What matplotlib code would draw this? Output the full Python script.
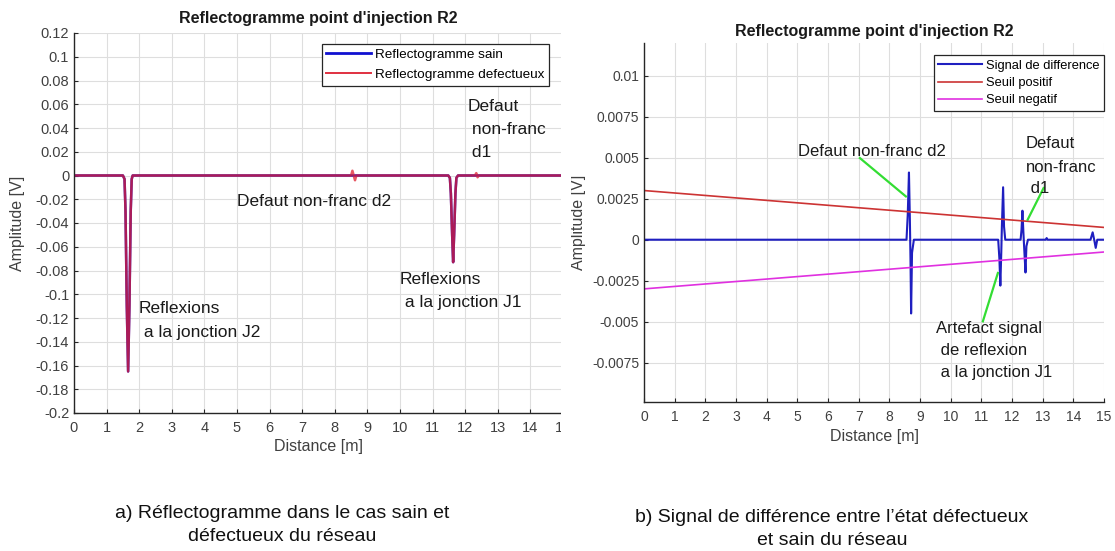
import matplotlib
matplotlib.use("Agg")
import matplotlib.pyplot as plt
from matplotlib.patches import Rectangle

# ---------------- data ----------------
# Panel a) reflectogrammes
x_sain = [0, 1.50, 1.55, 1.58, 1.62, 1.66, 1.70, 1.74, 1.77, 1.80,
          11.48, 11.53, 11.56, 11.60, 11.63, 11.66, 11.70, 11.73, 11.78, 15.0]
y_sain = [0, 0, -0.003, -0.03, -0.11, -0.165, -0.11, -0.03, -0.003, 0,
          0, -0.002, -0.015, -0.05, -0.073, -0.05, -0.015, -0.002, 0, 0]

x_def = [0, 1.50, 1.55, 1.58, 1.62, 1.66, 1.70, 1.74, 1.77, 1.80,
         8.50, 8.54, 8.58, 8.62, 8.66,
         11.48, 11.53, 11.56, 11.60, 11.63, 11.66, 11.70, 11.73, 11.78,
         12.30, 12.34, 12.38, 12.42, 15.0]
y_def = [0, 0, -0.003, -0.03, -0.11, -0.165, -0.11, -0.03, -0.003, 0,
         0, 0.004, 0.0, -0.004, 0,
         0, -0.002, -0.015, -0.05, -0.073, -0.05, -0.015, -0.002, 0,
         0, 0.002, -0.0015, 0, 0]

# Panel b) difference signal and thresholds
x_diff = [0, 8.56, 8.60, 8.64, 8.67, 8.69, 8.71, 8.74, 8.80,
          11.55, 11.59, 11.62, 11.65, 11.67, 11.71, 11.74, 11.78,
          12.28, 12.31, 12.34, 12.37, 12.40, 12.44, 12.47, 12.52,
          13.10, 13.13, 13.16,
          14.56, 14.63, 14.68, 14.73, 14.78, 15.0]
y_diff = [0, 0, 0.0015, 0.0041, 0.0012, -0.0012, -0.0045, -0.0008, 0,
          0, -0.0012, -0.0028, -0.0008, 0.0008, 0.0032, 0.0008, 0,
          0, 0.0006, 0.00177, 0.0005, -0.0006, -0.0020, -0.0004, 0,
          0, 0.0001, 0,
          0, 0.00045, 0, -0.0005, 0, 0]

x_seuil = [0, 15]
seuil_pos = [0.0030, 0.00075]
seuil_neg = [-0.0030, -0.00075]

yticks_a = [0.12, 0.1, 0.08, 0.06, 0.04, 0.02, 0, -0.02, -0.04, -0.06,
            -0.08, -0.1, -0.12, -0.14, -0.16, -0.18, -0.2]
yticklabels_a = ["0.12", "0.1", "0.08", "0.06", "0.04", "0.02", "0", "-0.02", "-0.04",
                 "-0.06", "-0.08", "-0.1", "-0.12", "-0.14", "-0.16", "-0.18", "-0.2"]
yticks_b = [0.01, 0.0075, 0.005, 0.0025, 0, -0.0025, -0.005, -0.0075]
yticklabels_b = ["0.01", "0.0075", "0.005", "0.0025", "0", "-0.0025", "-0.005", "-0.0075"]
xticks = list(range(16))

title = "Reflectogramme point d'injection R2"
caption_a = "a) Réflectogramme dans le cas sain et\ndéfectueux du réseau"
caption_b = "b) Signal de différence entre l’état défectueux\net sain du réseau"

# ---------------- figure ----------------
W, H = 1115, 551
plt.rcParams['font.family'] = ['Liberation Sans', 'DejaVu Sans']
fig = plt.figure(figsize=(W / 100, H / 100), dpi=100)

def box(l, r, t, b):
    return [l / W, 1 - b / H, (r - l) / W, (b - t) / H]

TXT = '#262626'
GRID = '#dedede'

def style(ax):
    for s in ['top', 'right']:
        ax.spines[s].set_visible(False)
    for s in ['left', 'bottom']:
        ax.spines[s].set_color(TXT)
        ax.spines[s].set_linewidth(1.0)
    ax.tick_params(direction='in', length=3, width=0.8, colors=TXT,
                   labelcolor='#404040', labelsize=10)
    ax.grid(True, color=GRID, linewidth=0.8)
    ax.set_axisbelow(True)

# ---- panel a ----
ax1 = fig.add_axes(box(74, 563, 33, 413))
style(ax1)
l1, = ax1.plot(x_sain, y_sain, color='#1010d0', lw=1.8, label='Reflectogramme sain')
l2, = ax1.plot(x_def, y_def, color='#e02030', lw=1.8, alpha=0.75, label='Reflectogramme defectueux')
ax1.set_xlim(0, 15)
ax1.set_ylim(-0.2, 0.12)
ax1.set_xticks(xticks)
ax1.set_xticklabels([str(t) for t in xticks])
ax1.set_yticks(yticks_a)
ax1.set_yticklabels(yticklabels_a)
ax1.tick_params(axis='y', labelsize=10.5)
ax1.tick_params(axis='x', labelsize=10.5, pad=6)
ax1.set_xlabel('Distance [m]', fontsize=11.5, color='#404040', labelpad=3)
ax1.set_ylabel('Amplitude [V]', fontsize=11.5, color='#404040')
ax1.yaxis.set_label_coords(-0.100, 0.5)
ax1.set_title(title, fontsize=11.5, fontweight='bold', color='#1a1a1a', pad=7)
h1a, = ax1.plot([], [], color='#1010d0', lw=2.0)
h1b, = ax1.plot([], [], color='#e03040', lw=1.4)
leg1 = ax1.legend(handles=[h1a, h1b], labels=['Reflectogramme sain', 'Reflectogramme defectueux'],
                  loc='upper right',
                  bbox_to_anchor=(549 / W, 1 - 44 / H), bbox_transform=fig.transFigure,
                  borderaxespad=0, fancybox=False, framealpha=1, edgecolor='#262626',
                  fontsize=9.7, handlelength=3.3, handletextpad=0.3, borderpad=0.35,
                  labelspacing=0.55)
leg1.get_frame().set_linewidth(0.9)

ann = dict(fontsize=12.5, color='#1a1a1a', ha='left', va='center')
ax1.text(12.07, 0.058, 'Defaut', **ann)
ax1.text(12.07, 0.0385, ' non-franc', **ann)
ax1.text(12.07, 0.019, ' d1', **ann)
ax1.text(5.0, -0.022, 'Defaut non-franc d2', **ann)
ax1.text(1.99, -0.1123, 'Reflexions', **ann)
ax1.text(1.99, -0.1323, ' a la jonction J2', **ann)
ax1.text(9.99, -0.0877, 'Reflexions', **ann)
ax1.text(9.99, -0.1071, ' a la jonction J1', **ann)

# crop the left panel like the source image
fig.patches.append(Rectangle((561 / W, 0), 10 / W, 1, transform=fig.transFigure,
                             facecolor='white', edgecolor='none', zorder=100))

# ---- panel b ----
ax2 = fig.add_axes(box(644, 1104, 43, 402))
style(ax2)
d1, = ax2.plot(x_diff, y_diff, color='#1f1fc0', lw=1.5, label='Signal de difference')
d2, = ax2.plot(x_seuil, seuil_pos, color='#cc3333', lw=1.2, label='Seuil positif')
d3, = ax2.plot(x_seuil, seuil_neg, color='#e030e0', lw=1.2, label='Seuil negatif')
ax2.set_xlim(0, 15)
ax2.set_ylim(-0.0099, 0.012)
ax2.set_xticks(xticks)
ax2.set_xticklabels([str(t) for t in xticks])
ax2.set_yticks(yticks_b)
ax2.set_yticklabels(yticklabels_b)
ax2.tick_params(axis='x', pad=6)
ax2.set_xlabel('Distance [m]', fontsize=11.5, color='#404040', labelpad=3)
ax2.set_ylabel('Amplitude [V]', fontsize=11.5, color='#404040')
ax2.yaxis.set_label_coords(-0.126, 0.5)
ax2.set_title(title, fontsize=11.5, fontweight='bold', color='#1a1a1a', pad=5)
leg2 = ax2.legend(handles=[d1, d2, d3], loc='upper right',
                  bbox_to_anchor=(1104 / W, 1 - 55 / H), bbox_transform=fig.transFigure,
                  borderaxespad=0, fancybox=False, framealpha=1, edgecolor='#262626',
                  fontsize=9.3, handlelength=3.4, handletextpad=0.3, borderpad=0.35,
                  labelspacing=0.42)
leg2.get_frame().set_linewidth(0.9)

ann2 = dict(fontsize=12, color='#1a1a1a', ha='left', va='center')
GREEN = '#33dd33'
ax2.text(5.02, 0.00539, 'Defaut non-franc d2', **ann2)
ax2.plot([7.04, 8.54], [0.00498, 0.00264], color=GREEN, lw=1.6)
ax2.text(12.46, 0.00585, 'Defaut', **ann2)
ax2.text(12.46, 0.00441, 'non-franc', **ann2)
ax2.text(12.46, 0.00311, ' d1', **ann2)
ax2.plot([13.03, 12.51], [0.00315, 0.00122], color=GREEN, lw=1.6)
ax2.text(9.53, -0.00539, 'Artefact signal', **ann2)
ax2.text(9.53, -0.00675, ' de reflexion', **ann2)
ax2.text(9.53, -0.00813, ' a la jonction J1', **ann2)
ax2.plot([11.54, 11.05], [-0.00203, -0.00498], color=GREEN, lw=1.6)

# ---- captions ----
cap = dict(fontsize=14, color='#111111', ha='center', va='center', linespacing=1.4,
           family=['Liberation Sans Narrow', 'Liberation Sans', 'DejaVu Sans'])
fig.text(282 / W, 1 - 525 / H, caption_a, **cap)
fig.text(832 / W, 1 - 529 / H, caption_b, **cap)

fig.savefig('out.png', dpi=100, facecolor='white')
